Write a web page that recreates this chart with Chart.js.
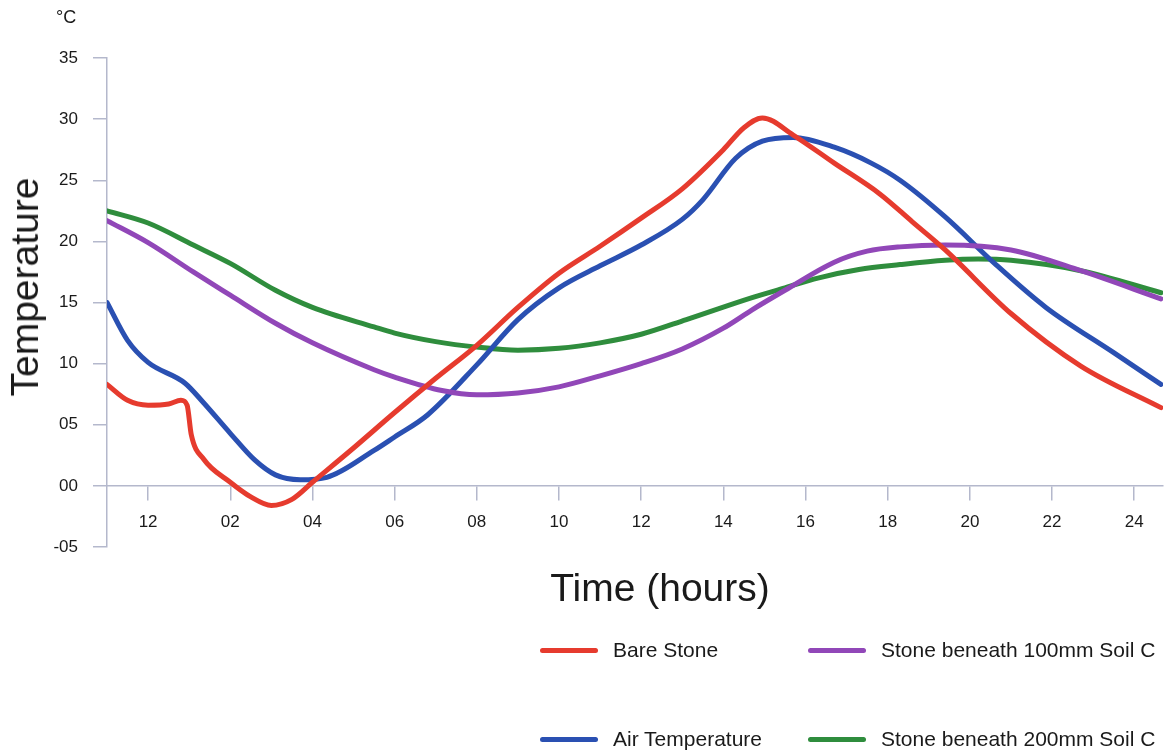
<!DOCTYPE html>
<html>
<head>
<meta charset="utf-8">
<title>Temperature over time</title>
<script src="https://cdn.jsdelivr.net/npm/chart.js@4.4.1/dist/chart.umd.min.js"></script>
<style>
  html, body { margin: 0; padding: 0; background: #fff; }
  #wrap { position: relative; width: 1170px; height: 756px; font-family: "Liberation Sans", Arial, sans-serif; color: #1a1a1a; }
  #chart { position: absolute; left: 0; top: 0; }
  .unit { position: absolute; left: 56px; top: 7px; font-size: 18px; }
  .ytitle { position: absolute; left: 25px; top: 287px; font-size: 39px; transform: translate(-50%, -50%) rotate(-90deg); white-space: nowrap; }
  .xtitle { position: absolute; left: 660px; top: 588px; font-size: 39px; transform: translate(-50%, -50%); white-space: nowrap; }
  .legend-item { position: absolute; display: flex; align-items: center; font-size: 21px; white-space: nowrap; transform: translateY(-50%); }
  .swatch { width: 58px; height: 5px; border-radius: 3px; margin-right: 15px; }
</style>
</head>
<body>
<div id="wrap">
  <canvas id="chart" width="1170" height="756"></canvas>
  <div class="unit">°C</div>
  <div class="ytitle">Temperature</div>
  <div class="xtitle">Time (hours)</div>
  <div id="legend"></div>
</div>
<script>
// values (hour of day, °C)
const bareHours = [-1, -0.5, 0, 0.5, 0.8, 0.95, 1.05, 1.35, 2, 2.5, 3, 3.5, 4, 5, 6, 7, 8, 9, 10, 11, 12, 13, 14, 14.5, 14.95, 15.7, 16.7, 17.8, 18.6, 19.4, 21, 22.7, 24.65];
const bareTemps = [8.3, 7.0, 6.6, 6.7, 7.0, 6.6, 4.2, 2.2, 0.3, -0.9, -1.6, -1.1, 0.3, 3.1, 6.0, 8.8, 11.5, 14.6, 17.4, 19.6, 21.9, 24.3, 27.5, 29.3, 30.1, 28.7, 26.4, 23.9, 21.6, 19.3, 14.1, 9.8, 6.4];

const airHours = [-1, -0.5, 0, 0.9, 1.35, 2, 2.6, 3.1, 3.7, 4.35, 5.5, 6, 6.8, 8, 9, 10, 11, 12, 13, 13.5, 14.3, 14.95, 15.7, 16.7, 17.6, 18.3, 19.4, 20.6, 21.85, 23.5, 24.65];
const airTemps = [15.0, 11.9, 10.1, 8.4, 6.8, 4.3, 2.1, 0.9, 0.5, 0.7, 2.9, 4.0, 5.8, 9.9, 13.6, 16.2, 18.0, 19.7, 21.8, 23.4, 26.8, 28.2, 28.5, 27.7, 26.4, 25.0, 22.0, 18.2, 14.6, 10.9, 8.3];

const soil100Hours = [-1, 0, 1.1, 2, 3.1, 4, 5.5, 6, 7.15, 8, 9, 10, 11, 12, 13, 14, 14.7, 15.5, 16.7, 17.5, 18.3, 19.4, 21, 22.7, 24.65];
const soil100Temps = [21.7, 19.9, 17.5, 15.6, 13.3, 11.7, 9.5, 8.9, 7.8, 7.45, 7.6, 8.1, 9.0, 10.0, 11.2, 12.9, 14.4, 16.0, 18.3, 19.2, 19.55, 19.7, 19.3, 17.6, 15.3];

const soil200Hours = [-1, 0, 1.1, 2, 3.1, 4, 5.5, 6, 7, 8, 9, 10, 11, 12, 13.1, 14.7, 15.5, 16.3, 17.3, 18.3, 19.4, 20.2, 21, 22.7, 24.65];
const soil200Temps = [22.5, 21.5, 19.7, 18.2, 16.0, 14.6, 13.0, 12.5, 11.8, 11.35, 11.1, 11.25, 11.7, 12.4, 13.6, 15.4, 16.2, 17.0, 17.7, 18.1, 18.45, 18.55, 18.45, 17.6, 15.8];

const xTickHours = [0, 2, 4, 6, 8, 10, 12, 14, 16, 18, 20, 22, 24];
const xTickLabels = ["12", "02", "04", "06", "08", "10", "12", "14", "16", "18", "20", "22", "24"];
const yTickValues = [-5, 0, 5, 10, 15, 20, 25, 30, 35];
const yTickLabels = ["-05", "00", "05", "10", "15", "20", "25", "30", "35"];

const axisColor = "#b4b8cc";
const tickFont = { family: "'Liberation Sans', Arial, sans-serif", size: 17 };

function toPoints(hours, temps) {
  return hours.map((h, i) => ({ x: h, y: temps[i] }));
}

function series(label, hours, temps, color) {
  return {
    label,
    data: toPoints(hours, temps),
    borderColor: color,
    backgroundColor: color,
    borderWidth: 5,
    pointRadius: 0,
    cubicInterpolationMode: "monotone",
    borderCapStyle: "round",
    fill: false,
  };
}

const datasets = [
  series("Bare Stone", bareHours, bareTemps, "#e63b2e"),
  series("Stone beneath 100mm Soil C", soil100Hours, soil100Temps, "#9147b8"),
  series("Air Temperature", airHours, airTemps, "#2a50b2"),
  series("Stone beneath 200mm Soil C", soil200Hours, soil200Temps, "#2f8d3d"),
];

const chart = new Chart(document.getElementById("chart"), {
  type: "line",
  data: { datasets },
  options: {
    responsive: false,
    animation: false,
    layout: { padding: { left: 0, top: 58, right: 7, bottom: 209 } },
    plugins: { legend: { display: false }, tooltip: { enabled: false } },
    scales: {
      x: {
        type: "linear",
        min: -1,
        max: 24.7,
        position: { y: 0 },
        afterBuildTicks: (scale) => { scale.ticks = xTickHours.map((v) => ({ value: v })); },
        ticks: {
          autoSkip: false,
          maxRotation: 0,
          padding: 12,
          color: "#1a1a1a",
          font: tickFont,
          callback: (v) => xTickLabels[xTickHours.indexOf(v)],
        },
        grid: { drawOnChartArea: false, drawTicks: true, tickLength: 14, color: axisColor, lineWidth: 1.5 },
        border: { display: true, color: axisColor, width: 1.5 },
      },
      y: {
        min: -5,
        max: 35,
        afterFit: (scale) => { scale.width = 107; },
        afterBuildTicks: (scale) => { scale.ticks = yTickValues.map((v) => ({ value: v })); },
        ticks: {
          padding: 15,
          color: "#1a1a1a",
          font: tickFont,
          callback: (v) => yTickLabels[yTickValues.indexOf(v)],
        },
        grid: { drawOnChartArea: false, drawTicks: true, tickLength: 14, color: axisColor, lineWidth: 1.5 },
        border: { display: true, color: axisColor, width: 1.5 },
      },
    },
  },
});

// legend in two columns, laid out like the original figure
const legendSpots = [
  { left: 540, top: 650 },
  { left: 808, top: 650 },
  { left: 540, top: 739 },
  { left: 808, top: 739 },
];
const legendEl = document.getElementById("legend");
chart.data.datasets.forEach((ds, i) => {
  const item = document.createElement("div");
  item.className = "legend-item";
  item.style.left = legendSpots[i].left + "px";
  item.style.top = legendSpots[i].top + "px";
  item.innerHTML = `<span class="swatch" style="background:${ds.borderColor}"></span><span>${ds.label}</span>`;
  legendEl.appendChild(item);
});
</script>
</body>
</html>
